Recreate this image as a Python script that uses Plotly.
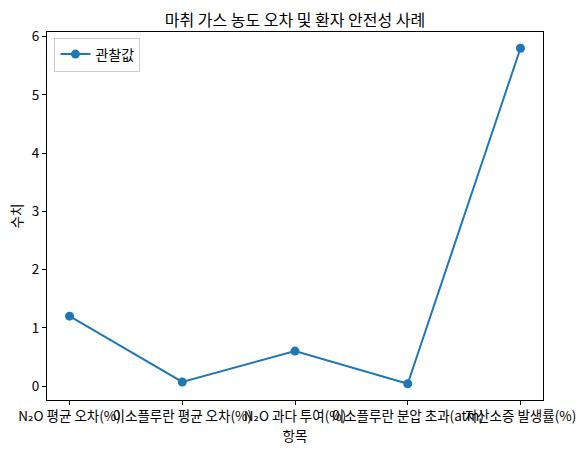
import plotly.graph_objects as go

categories = ["N₂O 평균 오차(%)", "이소플루란 평균 오차(%)", "N₂O 과다 투여(%)", "이소플루란 분압 초과(atm)", "저산소증 발생률(%)"]
values = [1.2, 0.07, 0.6, 0.04, 5.8]
series_name = "관찰값"
title = "마취 가스 농도 오차 및 환자 안전성 사례"

FONT = "Noto Sans CJK KR, DejaVu Sans, sans-serif"

fig = go.Figure()
fig.add_trace(go.Scatter(
    x=categories, y=values, mode="lines+markers", name=series_name,
    line=dict(color="#1f77b4", width=2),
    marker=dict(color="#1f77b4", size=9),
))

fig.update_layout(
    width=587, height=455,
    margin=dict(l=47, r=44, t=32, b=55),
    paper_bgcolor="white", plot_bgcolor="white",
    font=dict(family=FONT, size=13.5, color="black"),
    title=dict(text=title, x=0.5, xanchor="center", xref="paper", y=1, yref="paper",
               yanchor="bottom", pad=dict(b=6), font=dict(size=16, color="black")),
    showlegend=True,
    legend=dict(x=0.015, y=0.985, xanchor="left", yanchor="top",
                bordercolor="#cccccc", borderwidth=1, bgcolor="white",
                font=dict(size=14)),
    xaxis=dict(type="category", range=[-0.2, 4.2], showline=True, mirror=True,
               linecolor="black", linewidth=1, ticks="outside", ticklen=4,
               tickcolor="black", showgrid=False, zeroline=False, tickangle=0,
               automargin=False,
               title=dict(text="항목", standoff=3, font=dict(size=13.5))),
    yaxis=dict(range=[-0.24, 6.08], showline=True, mirror=True,
               linecolor="black", linewidth=1, ticks="outside", ticklen=4,
               tickcolor="black", showgrid=False, zeroline=False, dtick=1,
               automargin=False,
               title=dict(text="수치", standoff=6, font=dict(size=13.5))),
)

fig.write_html("out.html", config={"displayModeBar": False},
               post_script="document.body.style.margin='0';document.body.style.overflow='hidden';")
